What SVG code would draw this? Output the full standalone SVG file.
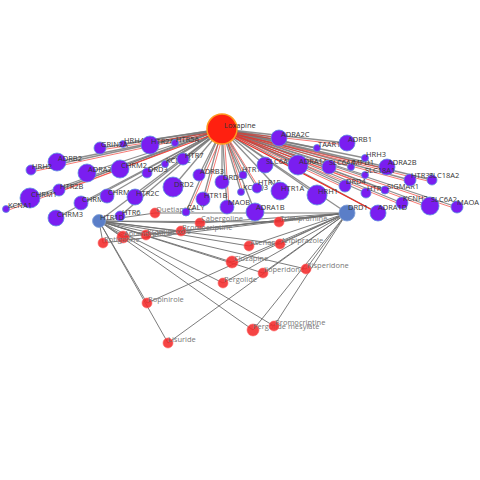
<svg xmlns="http://www.w3.org/2000/svg" width="480" height="480" viewBox="0 0 480 480">
<style>
.e{stroke:#7a7a7a;stroke-width:1.3;fill:none;stroke-opacity:0.85}
.r{stroke:#f02a20;stroke-width:0.9;fill:none;stroke-opacity:0.7}
.d{stroke:#6e6e6e;stroke-width:1;fill:none;stroke-opacity:0.9}
.p{fill:#7a1ef0;stroke:#5b8fe0;stroke-width:0.8}
.b{fill:#5a7ec8;stroke:#7f9fd8;stroke-width:0.8}
.m{fill:#f42a2a;fill-opacity:0.88;stroke:#f66;stroke-width:0.6}
.lx{fill:#ff2010;stroke:#ff9a20;stroke-width:1.5}
text{font-family:"Open Sans","Liberation Sans",sans-serif;font-size:7.5px}
.t{fill:#333}
.g{fill:#777}
</style>
<rect width="480" height="480" fill="#fff"/>
<g id="connectors">
<line class="e" x1="222" y1="129" x2="123" y2="144"/>
<line class="e" x1="222" y1="129" x2="100" y2="148"/>
<line class="e" x1="222" y1="129" x2="150" y2="145"/>
<line class="e" x1="222" y1="129" x2="175" y2="143"/>
<line class="e" x1="222" y1="129" x2="57" y2="162"/>
<line class="e" x1="222" y1="129" x2="31" y2="170"/>
<line class="e" x1="222" y1="129" x2="87" y2="173"/>
<line class="e" x1="222" y1="129" x2="120" y2="169"/>
<line class="e" x1="222" y1="129" x2="147" y2="173"/>
<line class="e" x1="222" y1="129" x2="165" y2="164"/>
<line class="e" x1="222" y1="129" x2="183" y2="159"/>
<line class="e" x1="222" y1="129" x2="59" y2="190"/>
<line class="e" x1="222" y1="129" x2="30" y2="198"/>
<line class="e" x1="222" y1="129" x2="6" y2="209"/>
<line class="e" x1="222" y1="129" x2="81" y2="203"/>
<line class="e" x1="222" y1="129" x2="107" y2="196"/>
<line class="e" x1="222" y1="129" x2="135" y2="197"/>
<line class="e" x1="222" y1="129" x2="56" y2="218"/>
<line class="e" x1="222" y1="129" x2="120" y2="216"/>
<line class="e" x1="222" y1="129" x2="99" y2="221"/>
<line class="e" x1="222" y1="129" x2="173" y2="187"/>
<line class="e" x1="222" y1="129" x2="199" y2="175"/>
<line class="e" x1="222" y1="129" x2="222" y2="182"/>
<line class="e" x1="222" y1="129" x2="243" y2="175"/>
<line class="e" x1="222" y1="129" x2="241" y2="192"/>
<line class="e" x1="222" y1="129" x2="257" y2="188"/>
<line class="e" x1="222" y1="129" x2="203" y2="199"/>
<line class="e" x1="222" y1="129" x2="227" y2="207"/>
<line class="e" x1="222" y1="129" x2="186" y2="212"/>
<line class="e" x1="222" y1="129" x2="255" y2="212"/>
<line class="e" x1="222" y1="129" x2="280" y2="191"/>
<line class="e" x1="222" y1="129" x2="317" y2="195"/>
<line class="e" x1="222" y1="129" x2="265" y2="165"/>
<line class="e" x1="222" y1="129" x2="298" y2="165"/>
<line class="e" x1="222" y1="129" x2="329" y2="167"/>
<line class="e" x1="222" y1="129" x2="351" y2="167"/>
<line class="e" x1="222" y1="129" x2="279" y2="138"/>
<line class="e" x1="222" y1="129" x2="317" y2="148"/>
<line class="e" x1="222" y1="129" x2="347" y2="143"/>
<line class="e" x1="222" y1="129" x2="365" y2="158"/>
<line class="e" x1="222" y1="129" x2="387" y2="167"/>
<line class="e" x1="222" y1="129" x2="365" y2="175"/>
<line class="e" x1="222" y1="129" x2="345" y2="186"/>
<line class="e" x1="222" y1="129" x2="366" y2="193"/>
<line class="e" x1="222" y1="129" x2="385" y2="190"/>
<line class="e" x1="222" y1="129" x2="410" y2="180"/>
<line class="e" x1="222" y1="129" x2="432" y2="180"/>
<line class="e" x1="222" y1="129" x2="402" y2="203"/>
<line class="e" x1="222" y1="129" x2="430" y2="206"/>
<line class="e" x1="222" y1="129" x2="457" y2="207"/>
<line class="e" x1="222" y1="129" x2="378" y2="213"/>
<line class="e" x1="222" y1="129" x2="347" y2="213"/>
<line class="r" x1="222" y1="131" x2="31" y2="172"/>
<line class="r" x1="222" y1="131" x2="6" y2="211"/>
<line class="r" x1="222" y1="131" x2="100" y2="150"/>
<line class="r" x1="222" y1="131" x2="59" y2="192"/>
<line class="r" x1="222" y1="131" x2="281" y2="140"/>
<line class="r" x1="222" y1="131" x2="347" y2="145"/>
<line class="r" x1="222" y1="131" x2="387" y2="169"/>
<line class="r" x1="222" y1="131" x2="410" y2="182"/>
<line class="r" x1="222" y1="131" x2="432" y2="182"/>
<line class="r" x1="222" y1="131" x2="430" y2="208"/>
<line class="r" x1="222" y1="131" x2="457" y2="209"/>
<line class="r" x1="222" y1="131" x2="402" y2="205"/>
<line class="r" x1="222" y1="131" x2="385" y2="192"/>
<line class="r" x1="222" y1="131" x2="345" y2="188"/>
<line class="r" x1="222" y1="131" x2="378" y2="213" style="stroke-width:1.3;stroke-opacity:1"/>
<line class="r" x1="224" y1="131" x2="188" y2="212"/>
<line class="r" x1="224" y1="131" x2="205" y2="199"/>
<line class="r" x1="224" y1="131" x2="229" y2="207"/>
<line class="r" x1="224" y1="131" x2="245" y2="175"/>
<line class="r" x1="224" y1="131" x2="243" y2="192"/>
<line class="r" x1="224" y1="131" x2="259" y2="188"/>
<path class="d" d="M99 221L155 213M99 221L200 223M99 221L181 231M99 221L146 235M99 221L123 237M99 221L103 243M99 221L279 222M99 221L249 246M99 221L280 244M99 221L232 262M99 221L263 273M99 221L306 269M99 221L223 283M99 221L147 303M99 221L168 343M99 221L253 330M99 221L274 326"/>
<path class="d" d="M347 213L155 213M347 213L200 223M347 213L181 231M347 213L146 235M347 213L123 237M347 213L103 243M347 213L279 222M347 213L249 246M347 213L280 244M347 213L232 262M347 213L263 273M347 213L306 269M347 213L223 283M347 213L147 303M347 213L168 343M347 213L253 330M347 213L274 326"/>
</g>
<g id="drugs">
<g id="n-quetiapine"><circle class="m" cx="155" cy="213" r="5"/><text class="g" x="156" y="212">Quetiapine</text></g>
<g id="n-cabergoline"><circle class="m" cx="200" cy="223" r="5"/><text class="g" x="201" y="221">Cabergoline</text></g>
<g id="n-bromocriptine"><circle class="m" cx="181" cy="231" r="5"/><text class="g" x="182" y="230">Bromocriptine</text></g>
<g id="n-pramipexole"><circle class="m" cx="146" cy="235" r="5"/><text class="g" x="147" y="234">Pramipexole</text></g>
<g id="n-apomorphine"><circle class="m" cx="123" cy="237" r="6"/><text class="g" x="124" y="236">Apomorphine</text></g>
<g id="n-rotigotine"><circle class="m" cx="103" cy="243" r="5"/><text class="g" x="104" y="242">Rotigotine</text></g>
<g id="n-trimipramine"><circle class="m" cx="279" cy="222" r="5"/><text class="g" x="280" y="221">Trimipramine</text></g>
<g id="n-asenapine"><circle class="m" cx="249" cy="246" r="5"/><text class="g" x="250" y="245">Asenapine</text></g>
<g id="n-aripiprazole"><circle class="m" cx="280" cy="244" r="5"/><text class="g" x="281" y="243">Aripiprazole</text></g>
<g id="n-clozapine"><circle class="m" cx="232" cy="262" r="6"/><text class="g" x="234" y="261">Clozapine</text></g>
<g id="n-iloperidone"><circle class="m" cx="263" cy="273" r="5"/><text class="g" x="264" y="272">Iloperidone</text></g>
<g id="n-risperidone"><circle class="m" cx="306" cy="269" r="5"/><text class="g" x="307" y="268">Risperidone</text></g>
<g id="n-pergolide"><circle class="m" cx="223" cy="283" r="5"/><text class="g" x="224" y="282">Pergolide</text></g>
<g id="n-ropinirole"><circle class="m" cx="147" cy="303" r="5"/><text class="g" x="148" y="302">Ropinirole</text></g>
<g id="n-lisuride"><circle class="m" cx="168" cy="343" r="5"/><text class="g" x="168" y="342">Lisuride</text></g>
<g id="n-pergolide-mesylate"><circle class="m" cx="253" cy="330" r="6"/><text class="g" x="253" y="329">Pergolide mesylate</text></g>
<g id="n-bromocriptine-mesylate"><circle class="m" cx="274" cy="326" r="5"/><text class="g" x="275" y="325">Bromocriptine</text></g>
</g>
<g id="targets">
<g id="n-HRH4"><circle class="p" cx="123" cy="144" r="3.5"/><text class="t" x="124" y="143">HRH4</text></g>
<g id="n-GRIN2A"><circle class="p" cx="100" cy="148" r="6"/><text class="t" x="101" y="147">GRIN2A</text></g>
<g id="n-HTR2A"><circle class="p" cx="150" cy="145" r="9"/><text class="t" x="151" y="144">HTR2A</text></g>
<g id="n-HTR5A"><circle class="p" cx="175" cy="143" r="3.5"/><text class="t" x="176" y="142">HTR5A</text></g>
<g id="n-ADRB2"><circle class="p" cx="57" cy="162" r="9"/><text class="t" x="58" y="161">ADRB2</text></g>
<g id="n-HRH2"><circle class="p" cx="31" cy="170" r="5"/><text class="t" x="32" y="169">HRH2</text></g>
<g id="n-ADRA2A"><circle class="p" cx="87" cy="173" r="9"/><text class="t" x="88" y="172">ADRA2A</text></g>
<g id="n-CHRM2"><circle class="p" cx="120" cy="169" r="9"/><text class="t" x="121" y="168">CHRM2</text></g>
<g id="n-DRD3"><circle class="p" cx="147" cy="173" r="5"/><text class="t" x="148" y="172">DRD3</text></g>
<g id="n-KCND2"><circle class="p" cx="165" cy="164" r="3.5"/><text class="t" x="166" y="163">KCND2</text></g>
<g id="n-HTR7"><circle class="p" cx="183" cy="159" r="6"/><text class="t" x="185" y="158">HTR7</text></g>
<g id="n-HTR2B"><circle class="p" cx="59" cy="190" r="6"/><text class="t" x="60" y="189">HTR2B</text></g>
<g id="n-CHRM1"><circle class="p" cx="30" cy="198" r="10"/><text class="t" x="31" y="197">CHRM1</text></g>
<g id="n-KCNA1"><circle class="p" cx="6" cy="209" r="3.5"/><text class="t" x="8" y="208">KCNA1</text></g>
<g id="n-CHRM5"><circle class="p" cx="81" cy="203" r="7"/><text class="t" x="82" y="202">CHRM5</text></g>
<g id="n-CHRM4"><circle class="p" cx="107" cy="196" r="7"/><text class="t" x="108" y="195">CHRM4</text></g>
<g id="n-HTR2C"><circle class="p" cx="135" cy="197" r="8"/><text class="t" x="136" y="196">HTR2C</text></g>
<g id="n-CHRM3"><circle class="p" cx="56" cy="218" r="8"/><text class="t" x="57" y="217">CHRM3</text></g>
<g id="n-HTR6"><circle class="p" cx="120" cy="216" r="5"/><text class="t" x="122" y="215">HTR6</text></g>
<g id="n-DRD2"><circle class="p" cx="173" cy="187" r="10"/><text class="t" x="174" y="187">DRD2</text></g>
<g id="n-ADRB3"><circle class="p" cx="199" cy="175" r="6"/><text class="t" x="200" y="174">ADRB3</text></g>
<g id="n-DRD5"><circle class="p" cx="222" cy="182" r="7"/><text class="t" x="223" y="180">DRD5</text></g>
<g id="n-HTR1E"><circle class="p" cx="243" cy="175" r="4"/><text class="t" x="242" y="172">HTR1E</text></g>
<g id="n-KCNQ3"><circle class="p" cx="241" cy="192" r="3.5"/><text class="t" x="243" y="190">KCNQ3</text></g>
<g id="n-HTR1F"><circle class="p" cx="257" cy="188" r="5"/><text class="t" x="258" y="185">HTR1F</text></g>
<g id="n-HTR1B"><circle class="p" cx="203" cy="199" r="7"/><text class="t" x="204" y="198">HTR1B</text></g>
<g id="n-MAOB"><circle class="p" cx="227" cy="207" r="7"/><text class="t" x="228" y="205">MAOB</text></g>
<g id="n-CALY"><circle class="p" cx="186" cy="212" r="4"/><text class="t" x="187" y="210">CALY</text></g>
<g id="n-ADRA1B"><circle class="p" cx="255" cy="212" r="9"/><text class="t" x="256" y="210">ADRA1B</text></g>
<g id="n-HTR1A"><circle class="p" cx="280" cy="191" r="9"/><text class="t" x="281" y="191">HTR1A</text></g>
<g id="n-HRH1"><circle class="p" cx="317" cy="195" r="10"/><text class="t" x="318" y="194">HRH1</text></g>
<g id="n-SLC6A3"><circle class="p" cx="265" cy="165" r="8"/><text class="t" x="266" y="164">SLC6A3</text></g>
<g id="n-ADRA1A"><circle class="p" cx="298" cy="165" r="10"/><text class="t" x="299" y="164">ADRA1A</text></g>
<g id="n-SLC6A4"><circle class="p" cx="329" cy="167" r="7"/><text class="t" x="329" y="165">SLC6A4</text></g>
<g id="n-IMPD1"><circle class="p" cx="351" cy="167" r="3.5"/><text class="t" x="351" y="165">IMPD1</text></g>
<g id="n-ADRA2C"><circle class="p" cx="279" cy="138" r="8"/><text class="t" x="281" y="137">ADRA2C</text></g>
<g id="n-TAAR1"><circle class="p" cx="317" cy="148" r="3.5"/><text class="t" x="318" y="147">TAAR1</text></g>
<g id="n-ADRB1"><circle class="p" cx="347" cy="143" r="8"/><text class="t" x="348" y="142">ADRB1</text></g>
<g id="n-HRH3"><circle class="p" cx="365" cy="158" r="3.5"/><text class="t" x="366" y="157">HRH3</text></g>
<g id="n-ADRA2B"><circle class="p" cx="387" cy="167" r="8"/><text class="t" x="388" y="165">ADRA2B</text></g>
<g id="n-SLC18A1"><circle class="p" cx="365" cy="175" r="3.5"/><text class="t" x="365" y="173">SLC18A1</text></g>
<g id="n-DRD4"><circle class="p" cx="345" cy="186" r="6"/><text class="t" x="346" y="184">DRD4</text></g>
<g id="n-HTR4"><circle class="p" cx="366" cy="193" r="5"/><text class="t" x="367" y="191">HTR4</text></g>
<g id="n-SIGMAR1"><circle class="p" cx="385" cy="190" r="4"/><text class="t" x="387" y="189">SIGMAR1</text></g>
<g id="n-HTR3A"><circle class="p" cx="410" cy="180" r="6"/><text class="t" x="411" y="178">HTR3A</text></g>
<g id="n-SLC18A2"><circle class="p" cx="432" cy="180" r="5"/><text class="t" x="429" y="178">SLC18A2</text></g>
<g id="n-KCNH2"><circle class="p" cx="402" cy="203" r="6"/><text class="t" x="403" y="201">KCNH2</text></g>
<g id="n-SLC6A2"><circle class="p" cx="430" cy="206" r="9"/><text class="t" x="431" y="202">SLC6A2</text></g>
<g id="n-MAOA"><circle class="p" cx="457" cy="207" r="6"/><text class="t" x="457" y="205">MAOA</text></g>
<g id="n-ADRA1D"><circle class="p" cx="378" cy="213" r="8"/><text class="t" x="378" y="210">ADRA1D</text></g>
<g id="n-HTR1D"><circle class="b" cx="99" cy="221" r="6.5"/><text class="t" x="100" y="220">HTR1D</text></g>
<g id="n-DRD1"><circle class="b" cx="347" cy="213" r="8"/><text class="t" x="348" y="210">DRD1</text></g>
</g>
<g id="n-loxapine"><circle class="lx" cx="222" cy="129" r="15"/><text class="t" x="224" y="128">Loxapine</text></g>
</svg>
